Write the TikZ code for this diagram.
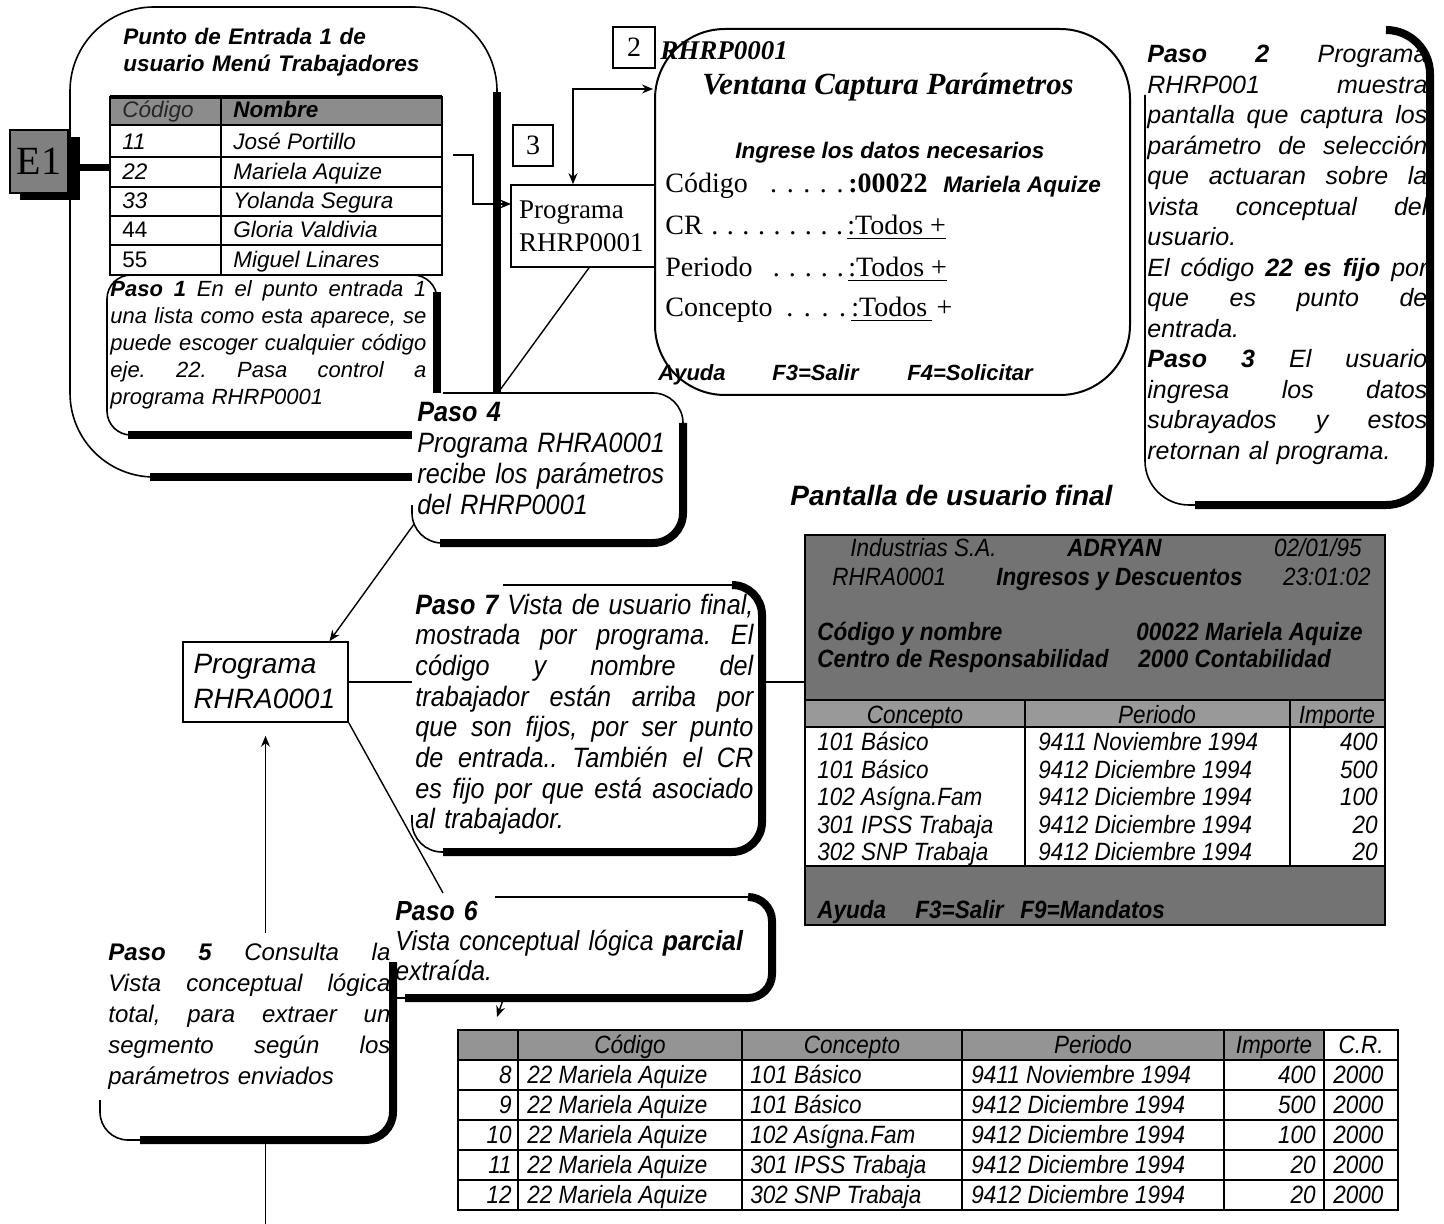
\documentclass[tikz,border=0pt]{standalone}
\usepackage{fontspec}
\usetikzlibrary{arrows.meta}
\newfontfamily\fa{Liberation Sans}
\newfontfamily\fn{Liberation Sans}[FakeStretch=0.9]
\newfontfamily\fs{Liberation Serif}
\newcommand\jl[1]{\leavevmode\hbox to \hsize{\spaceskip=0pt\xspaceskip=0pt\frenchspacing #1}}
\newcommand\dd[1]{\makebox[#1]{.}}
\pgfdeclarelayer{bg}
\pgfsetlayers{bg,main}
\begin{document}
\begin{tikzpicture}[x=0.5pt,y=-0.5pt,
  thinln/.style={line width=0.8pt},
  thickln/.style={line width=4pt},
  conn/.style={line width=0.7pt},
  arr/.style={conn,-{Stealth[length=5.5pt,width=4.5pt]}},
  dblarr/.style={conn,{Stealth[length=5.5pt,width=4.5pt]}-{Stealth[length=5.5pt,width=4.5pt]}},
  txt/.style={inner sep=0pt,anchor=base west,align=left},
  sa/.style={txt,font=\fa\itshape\fontsize{11.25}{13}\selectfont},
  sau/.style={txt,font=\fa\fontsize{11.25}{13}\selectfont},
  sab/.style={txt,font=\fa\bfseries\itshape\fontsize{11.25}{13}\selectfont},
  sr/.style={txt,font=\fs\fontsize{14}{16}\selectfont},
  nt/.style={txt,font=\fn\itshape\fontsize{12.5}{14}\selectfont},
  ntb/.style={txt,font=\fn\bfseries\itshape\fontsize{12.5}{14}\selectfont},
  sqbox/.style={draw,line width=1pt,inner sep=0pt,font=\fs\fontsize{14}{16}\selectfont},
]
\useasboundingbox (0,0) rectangle (1444,1224);

% ---------- outer box: Punto de entrada ----------
\draw[thinln, rounded corners=42pt] (497,300) -- (497,7) -- (70,7) -- (70,477) -- (300,477);
\draw[thickln] (497,92) -- (497,393);
\draw[thickln] (150,477) -- (412,477);
\node[txt,text width=170pt,font=\fa\bfseries\itshape\fontsize{11.25}{13.5}\selectfont] (tit1) at (123,45) {Punto de Entrada 1 de\\usuario Menú Trabajadores};

% ---------- table 1 ----------
\node[inner sep=0pt,minimum width=166pt,minimum height=89pt] (tab1) at (276,186) {};
\fill[black!45] (110,97) rectangle (442,125);
\draw[thinln] (110,125) -- (442,125) (110,157) -- (442,157) (110,187) -- (442,187)
  (110,216) -- (442,216) (110,245) -- (442,245) (221,97) -- (221,275);
\draw[line width=1.2pt] (110,97) rectangle (442,275);
\draw[line width=2pt] (110,97) -- (442,97);
\node[sa,text=black!85] (h1a) at (122,118) {Código};
\node[sab] (h1b) at (233,118) {Nombre};
\node[sa] (r1a) at (122,150) {11}; \node[sa] (r1b) at (233,150) {José Portillo};
\node[sa] (r2a) at (122,180) {22}; \node[sa] (r2b) at (233,180) {Mariela Aquize};
\node[sa] (r3a) at (122,209) {33}; \node[sa] (r3b) at (233,209) {Yolanda Segura};
\node[sau] (r4a) at (122,238) {44}; \node[sa] (r4b) at (233,238) {Gloria Valdivia};
\node[sau] (r5a) at (122,268) {55}; \node[sa] (r5b) at (233,268) {Miguel Linares};

% ---------- Paso 1 ----------
\draw[thinln, rounded corners=12pt] (437,300) -- (437,275) -- (107,275) -- (107,435) -- (300,435);
\draw[thickln] (437,292) -- (437,393);
\draw[thickln] (128,435) -- (412,435);
\node[txt,text width=158pt,font=\fa\itshape\fontsize{11}{13.5}\selectfont] (p1) at (110,297) {%
\jl{\textbf{Paso 1} En el punto entrada 1}\\
\jl{una lista como esta aparece, se}\\
\jl{puede escoger cualquier código}\\
\jl{eje. 22. Pasa control a}\\
programa RHRP0001};

% ---------- E1 ----------
\fill[black] (20,137) rectangle (80,200);
\node[draw,line width=1pt,fill=black!50,minimum width=29pt,minimum height=31.5pt,inner sep=0pt,font=\fs\fontsize{20}{22}\selectfont] (e1) at (39,161.5) {E1};
\coordinate (e1o) at (80,168);
\draw[line width=3.5pt] (e1o) -- (e1o -| tab1.west);

% ---------- Paso 4 ----------
\fill[white, rounded corners=15pt] (412,393) rectangle (683,543);
\draw[thinln, rounded corners=15pt] (443,393) -- (683,393) -- (683,450);
\draw[thickln, rounded corners=15pt] (683,423) -- (683,543) -- (440,543);
\draw[thinln, rounded corners=15pt] (450,543) -- (412,543) -- (412,505);
\node[txt,text width=125pt,font=\fn\itshape\fontsize{14}{15.35}\selectfont] (p4) at (417,422) {\textbf{Paso 4}\\Programa RHRA0001\\recibe los parámetros\\del RHRP0001};

% ---------- boxes 2, 3, Programa RHRP0001 ----------
\node[sqbox,minimum width=21pt,minimum height=20.5pt] (b2) at (634,47.5) {2};
\node[sqbox,minimum width=20pt,minimum height=20.5pt] (b3) at (533,145.5) {3};
\node[draw,line width=0.8pt,minimum width=72pt,minimum height=41pt,inner sep=0pt,text width=64pt,align=left,font=\fs\fontsize{13.5}{16.5}\selectfont] (prog) at (583,226) {Programa\\RHRP0001};

% ---------- Ventana Captura Parametros ----------
\draw[line width=1pt, rounded corners=35pt] (655,29) rectangle (1130,395);
\node[inner sep=0pt,minimum width=237.5pt,minimum height=183pt] (vent) at (892.5,212) {};
\node[txt,font=\fs\bfseries\itshape\fontsize{13.5}{15}\selectfont] (vrh) at (660,60) {RHRP0001};
\node[inner sep=0pt,anchor=base,font=\fs\bfseries\itshape\fontsize{15.4}{18}\selectfont] (vtit) at (888,95) {Ventana Captura Parámetros};
\node[sab] (ving) at (735,159) {Ingrese los datos necesarios};
\node[sr] (vr1) at (665,193) {\makebox[91.5pt][s]{Código\hfill\dd{8.3pt}\dd{8.3pt}\dd{8.3pt}\dd{8.3pt}\dd{8.3pt}}\textbf{:00022}};
\node[sab] (vmar) at (943,193) {Mariela Aquize};
\node[sr] (vr2) at (665,235) {\makebox[91pt][s]{CR\hfill\dd{7.8pt}\dd{7.8pt}\dd{7.8pt}\dd{7.8pt}\dd{7.8pt}\dd{7.8pt}\dd{7.8pt}\dd{7.8pt}\dd{7.8pt}}\underline{:Todos +}};
\node[sr] (vr3) at (665,277) {\makebox[91.5pt][s]{Periodo\hfill\dd{8pt}\dd{8pt}\dd{8pt}\dd{8pt}\dd{8pt}}\underline{:Todos +}};
\node[sr] (vr4) at (665,317) {\makebox[93pt][s]{Concepto\hfill\dd{8.8pt}\dd{8.8pt}\dd{8.8pt}\dd{8.8pt}}\underline{:Todos\,}\,+};
\node[txt,font=\fa\bfseries\itshape\fontsize{11}{13}\selectfont] (va1) at (658,381) {Ayuda};
\node[txt,font=\fa\bfseries\itshape\fontsize{11}{13}\selectfont] (va2) at (772,381) {F3=Salir};
\node[txt,font=\fa\bfseries\itshape\fontsize{11}{13}\selectfont] (va3) at (907,381) {F4=Solicitar};

% ---------- Paso 2 ----------
\draw[thinln, rounded corners=22pt] (1145,95) -- (1145,505) -- (1200,505);
\draw[thickln, rounded corners=22pt] (1386,30) -- (1430,30) -- (1430,505) -- (1195,505);
\node[txt,text width=140pt,font=\fa\itshape\fontsize{12.5}{15.25}\selectfont] (p2) at (1147,63) {%
\jl{\textbf{Paso 2} Programa}\\
\jl{RHRP001 muestra}\\
\jl{pantalla que captura los}\\
\jl{parámetro de selección}\\
\jl{que actuaran sobre la}\\
\jl{vista conceptual del}\\
usuario.\\
\jl{El código \textbf{22 es fijo} por}\\
\jl{que es punto de}\\
entrada.\\
\jl{\textbf{Paso 3} El usuario}\\
\jl{ingresa los datos}\\
\jl{subrayados y estos}\\
retornan al programa.};

% ---------- Programa RHRA0001 ----------
\node[draw,line width=0.8pt,minimum width=82.5pt,minimum height=40pt,inner sep=0pt,text width=72pt,align=left,font=\fa\itshape\fontsize{14}{17.5}\selectfont] (rhra) at (265.5,682) {Programa\\RHRA0001};

% ---------- Paso 7 ----------
\fill[white, rounded corners=15pt] (412,585) rectangle (762,852);
\draw[thinln] (503,585) -- (735,585);
\draw[thickln, rounded corners=15pt] (732,585) -- (762,585) -- (762,852) -- (443,852);
\draw[thinln, rounded corners=15pt] (450,852) -- (412,852) -- (412,815);
\node[txt,text width=169pt,font=\fn\itshape\fontsize{14}{15.35}\selectfont] (p7) at (415,614) {%
\jl{\textbf{Paso 7} Vista de usuario final,}\\
\jl{mostrada por programa. El}\\
\jl{código y nombre del}\\
\jl{trabajador están arriba por}\\
\jl{que son fijos, por ser punto}\\
\jl{de entrada.. También el CR}\\
\jl{es fijo por que está asociado}\\
al trabajador.};

% ---------- Pantalla de usuario final ----------
\node[txt,font=\fa\bfseries\itshape\fontsize{14}{16}\selectfont] (ptit) at (790,505) {Pantalla de usuario final};
\fill[black!55] (805,535) rectangle (1385,700);
\fill[black!55] (805,866) rectangle (1385,925);
\fill[black!40] (805,700) rectangle (1385,727);
\draw[thinln] (805,700) -- (1385,700) (805,727) -- (1385,727) (805,866) -- (1385,866)
  (1025,700) -- (1025,866) (1290,700) -- (1290,866);
\node[draw,line width=1.2pt,minimum width=290pt,minimum height=195pt,inner sep=0pt] (pant) at (1095,730) {};
\node[nt] (pa1) at (850,556) {Industrias S.A.};
\node[ntb] (pa2) at (1067,556) {ADRYAN};
\node[nt,anchor=base east] (pa3) at (1362,556) {02/01/95};
\node[nt] (pa4) at (832,585) {RHRA0001};
\node[ntb] (pa5) at (996,585) {Ingresos y Descuentos};
\node[nt,anchor=base east] (pa6) at (1371,585) {23:01:02};
\node[ntb] (pa7) at (817,640) {Código y nombre};
\node[ntb] (pa8) at (1136,640) {00022 Mariela Aquize};
\node[ntb] (pa9) at (817,667) {Centro de Responsabilidad};
\node[ntb] (pa10) at (1138,667) {2000 Contabilidad};
\node[nt,anchor=base] (ph1) at (915,723) {Concepto};
\node[nt,anchor=base] (ph2) at (1157,723) {Periodo};
\node[nt,anchor=base] (ph3) at (1337,723) {Importe};
\foreach \i/\yy/\c/\p/\m in {1/750/101 Básico/9411 Noviembre 1994/400,
  2/778/101 Básico/9412 Diciembre 1994/500,
  3/805/102 Asígna.Fam/9412 Diciembre 1994/100,
  4/833/301 IPSS Trabaja/9412 Diciembre 1994/20,
  5/860/302 SNP Trabaja/9412 Diciembre 1994/20} {
  \node[nt] (pc\i) at (817,\yy) {\c};
  \node[nt] (pp\i) at (1038,\yy) {\p};
  \node[nt,anchor=base east] (pm\i) at (1378,\yy) {\m};
}
\node[ntb] (pf1) at (817,918) {Ayuda};
\node[ntb] (pf2) at (915,918) {F3=Salir};
\node[ntb] (pf3) at (1020,918) {F9=Mandatos};

% ---------- Paso 6 ----------
\fill[white, rounded corners=12pt] (393,897) rectangle (772,998);
\draw[thinln] (495,897) -- (748,897);
\draw[thickln, rounded corners=12pt] (748,897) -- (772,897) -- (772,998) -- (405,998);
\draw[thinln] (393,998) -- (410,998);
\node[txt,text width=180pt,font=\fn\itshape\fontsize{13.8}{15}\selectfont] (p6) at (395,920) {\textbf{Paso 6}\\Vista conceptual lógica \textbf{parcial}\\extraída.};

% ---------- Paso 5 ----------
\fill[white, rounded corners=14pt] (100,933) rectangle (393,1140);
\draw[thickln, rounded corners=14pt] (393,962) -- (393,1140) -- (140,1140);
\draw[thinln, rounded corners=14pt] (150,1140) -- (100,1140) -- (100,1100);
\node[txt,text width=141pt,font=\fa\itshape\fontsize{12}{15.5}\selectfont] (p5) at (108,960) {%
\jl{\textbf{Paso 5} Consulta la}\\
\jl{Vista conceptual lógica}\\
\jl{total, para extraer un}\\
\jl{segmento según los}\\
parámetros enviados};

% ---------- bottom table ----------
\fill[black!42] (458,1030) rectangle (1324,1060);
\foreach \yy in {1060,1090,1120,1150,1180} {\draw[thinln] (458,\yy) -- (1398,\yy);}
\foreach \xx in {518,742,962,1224,1324} {\draw[thinln] (\xx,1030) -- (\xx,1210);}
\draw[line width=1.2pt] (458,1030) rectangle (1398,1210);
\node[inner sep=0pt,minimum width=470pt,minimum height=90pt] (btab) at (928,1120) {};
\node[nt,anchor=base] (bh1) at (630,1053) {Código};
\node[nt,anchor=base] (bh2) at (852,1053) {Concepto};
\node[nt,anchor=base] (bh3) at (1093,1053) {Periodo};
\node[nt,anchor=base] (bh4) at (1274,1053) {Importe};
\node[nt,anchor=base] (bh5) at (1361,1053) {C.R.};
\foreach \i/\yy/\c/\p/\m in {8/1083/101 Básico/9411 Noviembre 1994/400,
  9/1113/101 Básico/9412 Diciembre 1994/500,
  10/1143/102 Asígna.Fam/9412 Diciembre 1994/100,
  11/1173/301 IPSS Trabaja/9412 Diciembre 1994/20,
  12/1203/302 SNP Trabaja/9412 Diciembre 1994/20} {
  \node[nt,anchor=base east] (bi\i) at (512,\yy) {\i};
  \node[nt] (bn\i) at (527,\yy) {22 Mariela Aquize};
  \node[nt] (bc\i) at (750,\yy) {\c};
  \node[nt] (bp\i) at (971,\yy) {\p};
  \node[nt,anchor=base east] (bm\i) at (1316,\yy) {\m};
  \node[nt] (br\i) at (1333,\yy) {2000};
}

% ---------- connectors ----------
\coordinate (t1r) at (453,155);
\coordinate (pin) at (511,204);
\coordinate (vk) at (573,89);
\coordinate (vin) at (653,89);
\coordinate (p4a) at (500,390);
\coordinate (p4bl) at (417,520);
\coordinate (p6c) at (443,893);
\coordinate (p5top) at (265.5,933);
\coordinate (p5bot) at (265.5,1140);
\coordinate (pend) at (265.5,1224);
\coordinate (p6b) at (503,1000);
\coordinate (btt) at (497,1017);
\begin{pgfonlayer}{bg}
  \draw[arr] (t1r) -- ++(20,0) |- (pin);
  \draw[dblarr] (prog.north -| vk) -- (vk) -- (vin);
  \draw[conn] ([xshift=3pt]prog.south) -- (p4a);
  \draw[arr] (p4bl) -- ([xshift=32pt]rhra.north);
  \draw[conn] (rhra.east) -- (rhra.east -| pant.west);
  \draw[conn] (rhra.south east) -- (p6c);
  \draw[arr] (p5top) -- ([yshift=-6.5pt]rhra.south);
  \draw[conn] (p5bot) -- (pend);
  \draw[arr] (p6b) -- (btt);
\end{pgfonlayer}
\end{tikzpicture}
\end{document}
